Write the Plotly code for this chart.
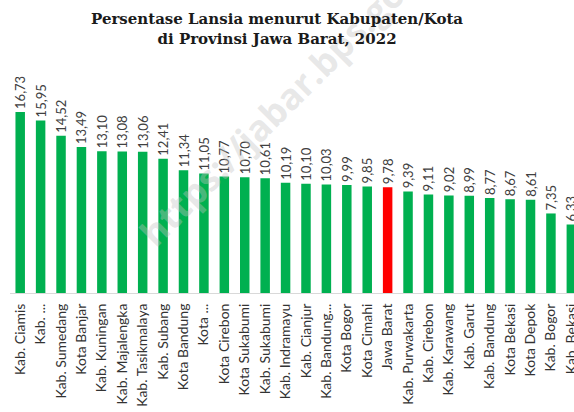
import plotly.graph_objects as go

categories = [
    "Kab. Ciamis", "Kab. ...", "Kab. Sumedang", "Kota Banjar", "Kab. Kuningan",
    "Kab. Majalengka", "Kab. Tasikmalaya", "Kab. Subang", "Kota Bandung", "Kota ...",
    "Kota Cirebon", "Kota Sukabumi", "Kab. Sukabumi", "Kab. Indramayu", "Kab. Cianjur",
    "Kab. Bandung...", "Kota Bogor", "Kota Cimahi", "Jawa Barat", "Kab. Purwakarta",
    "Kab. Cirebon", "Kab. Karawang", "Kab. Garut", "Kab. Bandung", "Kota Bekasi",
    "Kota Depok", "Kab. Bogor", "Kab. Bekasi",
]
values = [
    16.73, 15.95, 14.52, 13.49, 13.10, 13.08, 13.06, 12.41, 11.34, 11.05,
    10.77, 10.70, 10.61, 10.19, 10.10, 10.03, 9.99, 9.85, 9.78, 9.39,
    9.11, 9.02, 8.99, 8.77, 8.67, 8.61, 7.35, 6.33,
]
highlight = "Jawa Barat"

GREEN = "#00b050"
RED = "#ff0000"
colors = [RED if c == highlight else GREEN for c in categories]
labels = [f"{v:.2f}".replace(".", ",") for v in values]

fig = go.Figure()
fig.add_trace(go.Bar(
    x=categories, y=values, marker_color=colors, marker_line_width=0,
    text=labels, textposition="outside", textangle=-90, constraintext="none",
    textfont=dict(family="Lato", size=13, color="#404040"),
    cliponaxis=False, hoverinfo="skip",
))

# faint watermark
fig.add_annotation(
    text="<b>https://jabar.bps.go.id</b>", xref="paper", yref="paper",
    x=0.493, y=0.837, xanchor="center", yanchor="middle",
    showarrow=False, textangle=-45,
    font=dict(family="Open Sans", size=36, color="rgba(195,195,195,0.4)"),
)

# title
fig.add_annotation(
    text="<b>Persentase Lansia menurut Kabupaten/Kota<br>di Provinsi Jawa Barat, 2022</b>",
    xref="paper", yref="paper", x=(277 - 10) / 564, y=(293 - 8) / 233,
    xanchor="center", yanchor="top", showarrow=False,
    font=dict(family="DejaVu Serif", size=15, color="#1a1a1a"),
)

fig.update_layout(
    width=574, height=412,
    margin=dict(l=10, r=0, t=60, b=119),
    paper_bgcolor="white", plot_bgcolor="white",
    showlegend=False, bargap=0.535,
    xaxis=dict(
        range=[-0.5, 27.13], showline=True, linecolor="#d9d9d9", linewidth=1,
        ticks="", tickangle=-90, showgrid=False, zeroline=False,
        tickfont=dict(family="Lato", size=14, color="#333333"),
        ticklabelstandoff=4,
        automargin=False, fixedrange=True,
    ),
    yaxis=dict(
        range=[0, 21.53], visible=False, showgrid=False, zeroline=False,
        fixedrange=True,
    ),
)

fig.write_html(
    "out.html",
    config={"displayModeBar": False},
    post_script="document.body.style.margin='0';",
)
